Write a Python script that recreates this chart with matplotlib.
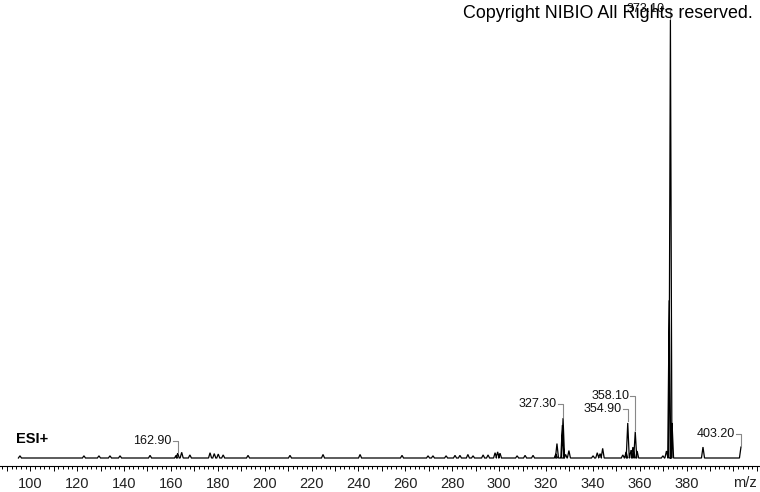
import matplotlib
matplotlib.use('Agg')
import matplotlib.pyplot as plt
from matplotlib.ticker import MultipleLocator, FuncFormatter

plt.rcParams['font.family'] = ['Liberation Sans', 'DejaVu Sans']

# profile peaks (m/z, relative intensity %)
mz = [95.6, 122.9, 129.3, 134.0, 138.3, 151.1, 162.2, 162.9, 164.6, 168.1,
      176.7, 178.5, 180.2, 182.3, 192.9, 210.8, 224.9, 240.7, 258.6, 269.7,
      271.8, 277.4, 281.2, 283.3, 286.7, 288.9, 293.2, 295.3, 298.3, 299.4,
      300.4, 307.7, 311.1, 314.5, 324.2, 324.7, 327.0, 327.3, 328.4, 329.8,
      340.1, 341.9, 343.1, 344.2, 352.8, 354.2, 354.9, 356.3, 357.1, 358.1,
      358.9, 369.9, 371.4, 372.6, 373.1, 373.8, 387.0, 403.2]
intensity = [0.5, 0.5, 0.5, 0.5, 0.5, 0.6, 0.6, 1.1, 1.3, 0.7,
             1.2, 1.0, 0.9, 0.7, 0.6, 0.6, 0.8, 0.8, 0.6, 0.5,
             0.5, 0.5, 0.6, 0.6, 0.8, 0.5, 0.7, 0.7, 1.2, 1.4,
             1.1, 0.5, 0.6, 0.6, 0.9, 3.3, 7.5, 9.1, 0.8, 1.7,
             0.5, 1.2, 1.0, 2.2, 0.7, 1.4, 8.0, 1.8, 2.5, 6.0,
             1.6, 0.5, 1.6, 36.0, 100.0, 8.0, 2.5, 2.5]

label_mz = [162.9, 327.3, 354.9, 358.1, 373.1, 403.2]
label_text = ['162.90', '327.30', '354.90', '358.10', '373.10', '403.20']
label_lift = [12, 14, 14, 36, 11, 13]   # pixels above the peak top

PX_X = 2.344   # pixels per m/z unit
PX_Y = 4.38    # pixels per % intensity
HW = 0.65      # half width of a peak in m/z

# build the profile trace
xs = [mz[0] - HW]
ys = [0]
for c, h in zip(mz, intensity):
    xs += [c - HW, c, c + HW]
    ys += [0, h, 0]
xs = xs[:-1]
ys = ys[:-1]

fig = plt.figure(figsize=(7.6, 4.92), dpi=100)
ax = fig.add_axes([0, 0, 1, 1])
ax.set_xlim(162.9 - 177.7 / PX_X, 162.9 + 582.3 / PX_X)
ax.set_ylim(-34 / PX_Y, 458 / PX_Y)

ax.plot(xs, ys, color='black', lw=0.9, solid_joinstyle='miter')

# peak labels with little brackets
for m, t, lift in zip(label_mz, label_text, label_lift):
    h = intensity[mz.index(m)]
    ly = h + lift / PX_Y
    ax.plot([m - 5 / PX_X, m, m], [ly, ly, h + 1.5 / PX_Y], color='#888888', lw=0.8)
    ax.text(m - 6 / PX_X, ly, t, ha='right', va='center', fontsize=9, color='#111111')

# axis
for s in ['top', 'left', 'right']:
    ax.spines[s].set_visible(False)
ax.spines['bottom'].set_position(('data', -8 / PX_Y))
ax.spines['bottom'].set_linewidth(0.8)
ax.set_yticks([])
ax.xaxis.set_major_locator(MultipleLocator(10))
ax.xaxis.set_minor_locator(MultipleLocator(2))
ax.xaxis.set_major_formatter(FuncFormatter(
    lambda v, p: '%d' % round(v) if round(v) % 20 == 0 and 100 <= v <= 380 else ''))
ax.tick_params(axis='x', which='major', direction='out', length=3.6, width=0.7,
               labelsize=10.5, pad=4.5, labelcolor='#222222')
ax.tick_params(axis='x', which='minor', direction='out', length=2.4, width=0.7)

ax.text(404.9, -25 / PX_Y, 'm/z', ha='center', va='center', fontsize=10.5, color='#222222')
ax.text(87.09 + 16 / PX_X, 19 / PX_Y, 'ESI+', ha='left', va='center',
        fontsize=10.5, fontweight='bold')
ax.text(87.09 + 753 / PX_X, 445 / PX_Y, 'Copyright NIBIO All Rights reserved.',
        ha='right', va='center', fontsize=12.9, color='black')

fig.savefig('out.png', dpi=100)
